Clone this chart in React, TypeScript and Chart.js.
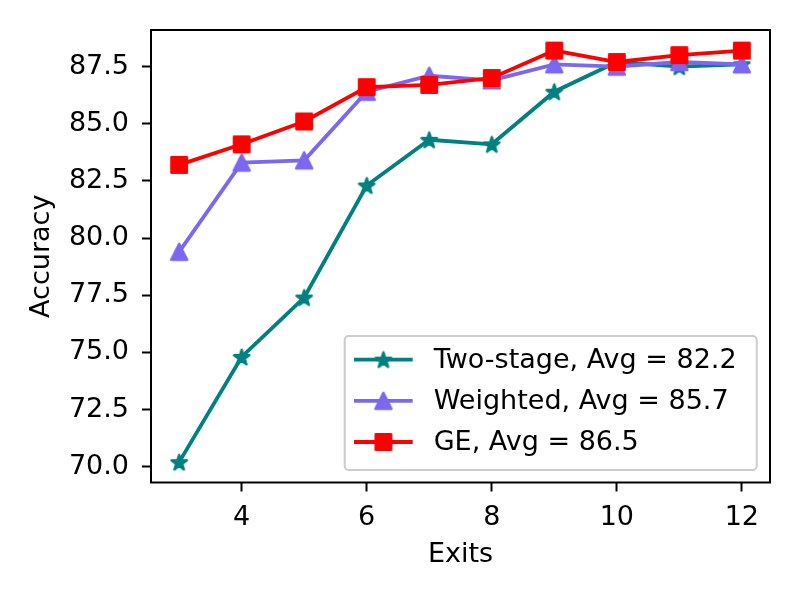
import { useEffect, useRef } from "react";
import { Chart, registerables } from "chart.js";

Chart.register(...registerables);

const exits = [3, 4, 5, 6, 7, 8, 9, 10, 11, 12];
const twoStage = [70.2, 74.8, 77.4, 82.3, 84.3, 84.1, 86.4, 87.7, 87.5, 87.6];
const weighted = [79.4, 83.3, 83.4, 86.4, 87.1, 86.9, 87.6, 87.5, 87.7, 87.6];
const ge = [83.2, 84.1, 85.1, 86.6, 86.7, 87.0, 88.2, 87.7, 88.0, 88.2];
const seriesNames = ["Two-stage", "Weighted", "GE"];
const xTicks = [4, 6, 8, 10, 12];
const yTicks = [70, 72.5, 75, 77.5, 80, 82.5, 85, 87.5];

const FONT = { family: "DejaVu Sans", size: 27 };
const TEAL = "#008080";
const PURPLE = "#7b68ee";
const RED = "#ff0000";

type MarkerKind = "star" | "triangle" | "square";

// matplotlib-like filled markers, drawn once on small canvases
function makeMarker(kind: MarkerKind, color: string) {
  const c = document.createElement("canvas");
  c.width = 26;
  c.height = 26;
  const ctx = c.getContext("2d")!;
  ctx.translate(13, 13);
  ctx.beginPath();
  if (kind === "star") {
    for (let i = 0; i < 10; i++) {
      const r = i % 2 ? 8 * 0.381966 : 8;
      const a = -Math.PI / 2 + (i * Math.PI) / 5;
      const px = Math.cos(a) * r;
      const py = Math.sin(a) * r + 0.8;
      if (i === 0) ctx.moveTo(px, py);
      else ctx.lineTo(px, py);
    }
  } else if (kind === "triangle") {
    ctx.moveTo(0, -8);
    ctx.lineTo(-8, 8);
    ctx.lineTo(8, 8);
  } else {
    ctx.rect(-7.7, -7.7, 15.4, 15.4);
  }
  ctx.closePath();
  ctx.fillStyle = color;
  ctx.fill();
  ctx.lineWidth = 2.5;
  ctx.lineJoin = "round";
  ctx.strokeStyle = color;
  ctx.stroke();
  return c;
}

const mean = (arr: number[]) => arr.reduce((a, b) => a + b, 0) / arr.length;

export default function App() {
  const canvasRef = useRef<HTMLCanvasElement>(null);
  const chartRef = useRef<Chart | null>(null);

  useEffect(() => {
    if (!canvasRef.current) return;
    const ctx = canvasRef.current.getContext("2d");
    if (!ctx) return;

    const markers = [
      makeMarker("star", TEAL),
      makeMarker("triangle", PURPLE),
      makeMarker("square", RED),
    ];
    const colors = [TEAL, PURPLE, RED];
    const values = [twoStage, weighted, ge];
    const labels = seriesNames.map((n, i) => `${n}, Avg = ${mean(values[i]).toFixed(1)}`);

    const frameAndLegend = {
      id: "frameAndLegend",
      afterDatasetsDraw(chart: Chart) {
        const { ctx: c, chartArea: ca } = chart;
        c.save();
        // spines
        c.strokeStyle = "#000";
        c.lineWidth = 2;
        c.strokeRect(ca.left, ca.top, ca.right - ca.left, ca.bottom - ca.top);

        // legend box, lower right
        const w = 412;
        const h = 134;
        const bx = ca.right - 13.3 - w;
        const by = ca.bottom - 12.5 - h;
        c.beginPath();
        c.roundRect(bx, by, w, h, 4);
        c.fillStyle = "rgba(255,255,255,0.8)";
        c.fill();
        c.strokeStyle = "#cccccc";
        c.lineWidth = 2;
        c.stroke();

        c.font = `${FONT.size}px "${FONT.family}"`;
        c.textBaseline = "middle";
        c.textAlign = "left";
        labels.forEach((label, i) => {
          const ry = by + 23.6 + i * 41.2;
          c.beginPath();
          c.moveTo(bx + 9.3, ry);
          c.lineTo(bx + 68, ry);
          c.strokeStyle = colors[i];
          c.lineWidth = 3.8;
          c.stroke();
          const m = markers[i];
          c.drawImage(m, bx + 38.7 - m.width / 2, ry - m.height / 2);
          c.fillStyle = "#000";
          c.fillText(label, bx + 89, ry + 1);
        });
        c.restore();
      },
    };

    chartRef.current = new Chart(ctx, {
      type: "line",
      data: {
        datasets: values.map((vals, i) => ({
          label: labels[i],
          data: exits.map((x, j) => ({ x, y: vals[j] })),
          borderColor: colors[i],
          backgroundColor: colors[i],
          borderWidth: 3.8,
          pointStyle: markers[i],
          pointRadius: 9,
          tension: 0,
          fill: false,
          order: 2 - i,
        })),
      },
      options: {
        animation: false,
        responsive: false,
        events: [],
        layout: { padding: { top: 30, right: 30, left: 0, bottom: 0 } },
        plugins: {
          legend: { display: false },
          tooltip: { enabled: false },
        },
        scales: {
          x: {
            type: "linear",
            min: 2.55,
            max: 12.45,
            afterBuildTicks: (scale: any) => {
              scale.ticks = xTicks.map((v) => ({ value: v }));
            },
            afterFit: (scale: any) => {
              scale.height = 117.5;
              scale.paddingLeft = 0;
              scale.paddingRight = 0;
            },
            ticks: {
              color: "#000",
              font: FONT,
              padding: 10,
              maxRotation: 0,
              autoSkip: false,
              callback: (v: any) => String(v),
            },
            grid: {
              drawOnChartArea: false,
              drawTicks: true,
              tickLength: 9,
              tickWidth: 2,
              tickColor: "#000",
            },
            border: { display: false },
            title: {
              display: true,
              text: "Exits",
              color: "#000",
              font: FONT,
              padding: { top: 0, bottom: 29 },
            },
          },
          y: {
            type: "linear",
            min: 69.31,
            max: 89.1,
            afterBuildTicks: (scale: any) => {
              scale.ticks = yTicks.map((v) => ({ value: v }));
            },
            afterFit: (scale: any) => {
              scale.width = 151;
              scale.paddingTop = 0;
              scale.paddingBottom = 0;
            },
            ticks: {
              color: "#000",
              font: FONT,
              padding: 13,
              autoSkip: false,
              callback: (v: any) => Number(v).toFixed(1),
            },
            grid: {
              drawOnChartArea: false,
              drawTicks: true,
              tickLength: 9,
              tickWidth: 2,
              tickColor: "#000",
            },
            border: { display: false },
            title: {
              display: true,
              text: "Accuracy",
              color: "#000",
              font: FONT,
              padding: { top: 26, bottom: 0 },
            },
          },
        },
      },
      plugins: [frameAndLegend],
    });

    return () => {
      if (chartRef.current) {
        chartRef.current.destroy();
        chartRef.current = null;
      }
    };
  }, []);

  return (
    <div style={{ position: "absolute", left: 0, top: 0, width: 800, height: 600, background: "#fff" }}>
      <canvas ref={canvasRef} width={800} height={600}></canvas>
    </div>
  );
}
